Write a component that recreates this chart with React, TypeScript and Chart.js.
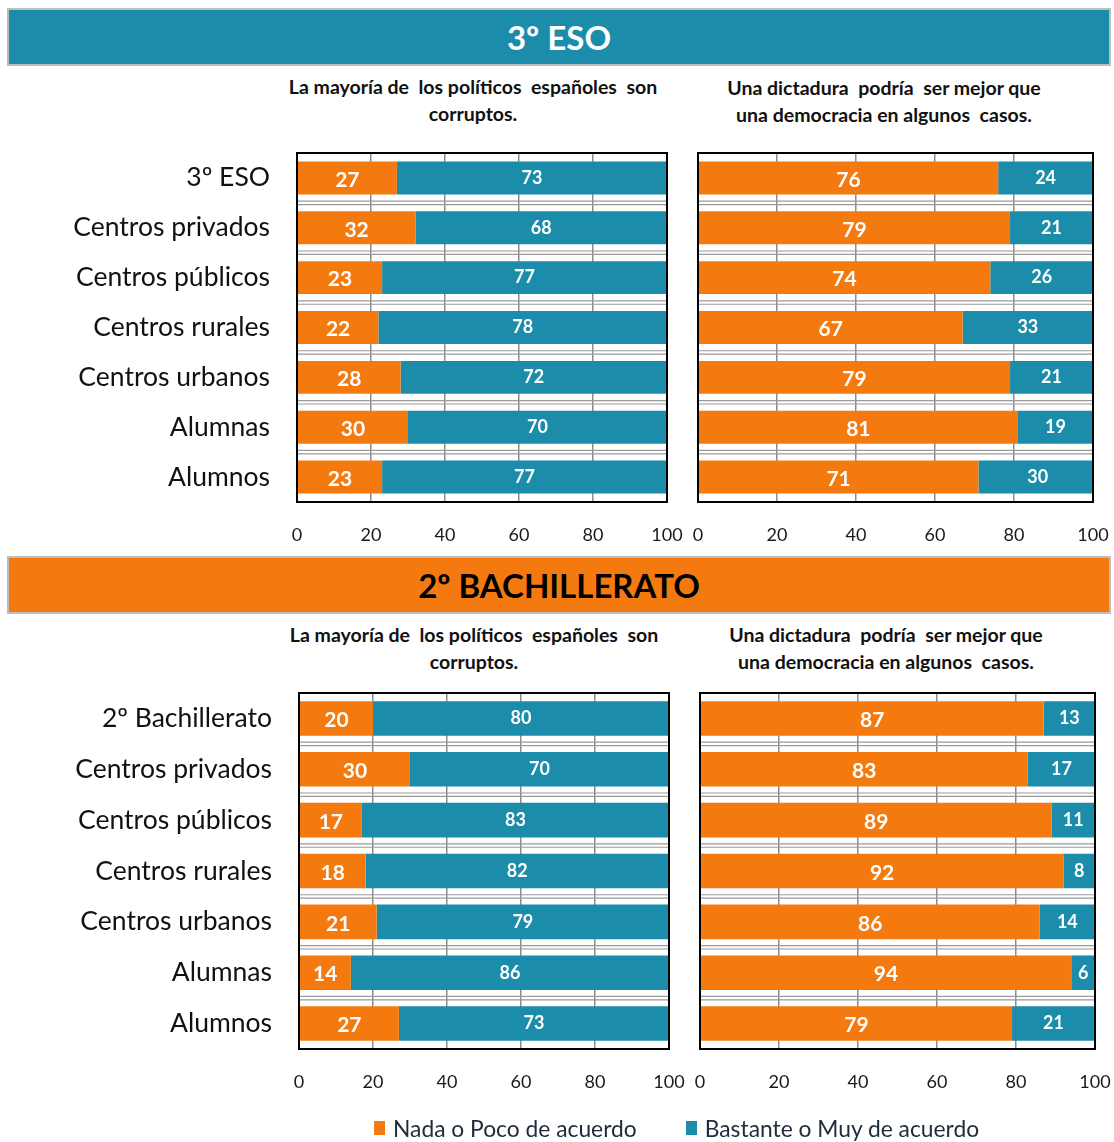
import React, { useEffect, useRef } from "react";
import { Chart, registerables } from "chart.js";

Chart.register(...registerables);

const FONT = "Lato, 'Open Sans', sans-serif";
const ORANGE = "#F47A10";
const TEAL = "#1B8CA9";

const SERIES_NAMES = ["Nada o Poco de acuerdo", "Bastante o Muy de acuerdo"];
const X_TICKS = [0, 20, 40, 60, 80, 100];

const ESO_LABELS = ["3º ESO", "Centros privados", "Centros públicos", "Centros rurales", "Centros urbanos", "Alumnas", "Alumnos"];
const BACH_LABELS = ["2º Bachillerato", "Centros privados", "Centros públicos", "Centros rurales", "Centros urbanos", "Alumnas", "Alumnos"];

const TITLE_CORRUPT = ["La mayoría de  los políticos  españoles  son", "corruptos."];
const TITLE_DICT = ["Una dictadura  podría  ser mejor que", "una democracia en algunos  casos."];

const ESO_CORRUPT_NADA = [27, 32, 23, 22, 28, 30, 23];
const ESO_CORRUPT_BASTANTE = [73, 68, 77, 78, 72, 70, 77];
const ESO_DICT_NADA = [76, 79, 74, 67, 79, 81, 71];
const ESO_DICT_BASTANTE = [24, 21, 26, 33, 21, 19, 30];

const BACH_CORRUPT_NADA = [20, 30, 17, 18, 21, 14, 27];
const BACH_CORRUPT_BASTANTE = [80, 70, 83, 82, 79, 86, 73];
const BACH_DICT_NADA = [87, 83, 89, 92, 86, 94, 79];
const BACH_DICT_BASTANTE = [13, 17, 11, 8, 14, 6, 21];

const framePlugin = {
  id: "frame",
  beforeDatasetsDraw(chart: any) {
    const { ctx, chartArea, scales } = chart;
    const y = scales.y;
    const n = chart.data.labels.length;
    const band = n > 1 ? y.getPixelForValue(1) - y.getPixelForValue(0) : 0;
    ctx.save();
    ctx.strokeStyle = "#9a9a9a";
    ctx.lineWidth = 1.2;
    for (let i = 0; i < n - 1; i++) {
      const b = y.getPixelForValue(i) + band / 2;
      for (const d of [-1.7, 1.7]) {
        ctx.beginPath();
        ctx.moveTo(chartArea.left, b + d);
        ctx.lineTo(chartArea.right, b + d);
        ctx.stroke();
      }
    }
    ctx.restore();
  },
  afterDatasetsDraw(chart: any) {
    const { ctx, chartArea } = chart;
    ctx.save();
    ctx.strokeStyle = "#000";
    ctx.lineWidth = 2;
    ctx.strokeRect(chartArea.left, chartArea.top, chartArea.right - chartArea.left, chartArea.bottom - chartArea.top);
    ctx.restore();
  },
};

const valueLabels = {
  id: "valueLabels",
  afterDraw(chart: any) {
    const { ctx } = chart;
    chart.data.datasets.forEach((ds: any, di: number) => {
      const meta = chart.getDatasetMeta(di);
      const size = di === 0 ? 21 : 18;
      ctx.save();
      ctx.fillStyle = "#fff";
      ctx.font = `bold ${size}px ${FONT}`;
      ctx.textAlign = "center";
      ctx.textBaseline = "middle";
      meta.data.forEach((el: any, i: number) => {
        const cx = (el.x + el.base) / 2;
        ctx.fillText(String(ds.data[i]), cx, el.y + (di === 0 ? 2 : 0));
      });
      ctx.restore();
    });
  },
};

type Rect = { l: number; t: number; r: number; b: number };
type BoxProps = {
  left: number; top: number; width: number; height: number;
  labels: string[]; nada: number[]; bastante: number[];
  showY: boolean; yWidth: number; plot: Rect;
  xHeight: number; barPct: number; yPad: number;
};

function ChartBox(p: BoxProps) {
  const ref = useRef<HTMLCanvasElement | null>(null);
  useEffect(() => {
    if (!ref.current) return;
    const pad = { left: p.plot.l - p.yWidth, right: p.width - p.plot.r, top: p.plot.t, bottom: p.height - p.plot.b - p.xHeight };
    const chart = new Chart(ref.current, {
      type: "bar",
      data: {
        labels: p.labels,
        datasets: [
          { label: SERIES_NAMES[0], data: p.nada, backgroundColor: ORANGE, barPercentage: p.barPct, categoryPercentage: 1 },
          { label: SERIES_NAMES[1], data: p.bastante, backgroundColor: TEAL, barPercentage: p.barPct, categoryPercentage: 1 },
        ],
      },
      options: {
        indexAxis: "y",
        animation: false,
        responsive: false,
        maintainAspectRatio: false,
        layout: { padding: { ...pad } },
        plugins: { legend: { display: false }, tooltip: { enabled: false } },
        scales: {
          x: {
            stacked: true,
            min: X_TICKS[0],
            max: X_TICKS[X_TICKS.length - 1],
            afterBuildTicks: (s: any) => { s.ticks = X_TICKS.map((v) => ({ value: v })); },
            ticks: { padding: 22, color: "#1a1a1a", font: { size: 18, family: FONT }, autoSkip: false, maxRotation: 0 },
            grid: { color: "#8c8c8c", lineWidth: 1.5, drawTicks: false },
            border: { display: false },
            afterFit: (s: any) => { s.height = p.xHeight; s.paddingLeft = 0; s.paddingRight = 0; },
          },
          y: {
            stacked: true,
            ticks: { display: p.showY, padding: p.yPad, color: "#111", font: { size: 26.5, family: FONT } },
            grid: { display: false, drawTicks: false },
            border: { display: false },
            afterFit: (s: any) => { s.width = p.yWidth; s.paddingTop = 0; s.paddingBottom = 0; },
          },
        },
      } as any,
      plugins: [framePlugin, valueLabels],
    });
    for (let k = 0; k < 4; k++) {
      const ca = chart.chartArea;
      const dl = p.plot.l - ca.left;
      const dt = p.plot.t - ca.top;
      const dr = ca.right - p.plot.r;
      const db = ca.bottom - p.plot.b;
      if (Math.abs(dl) < 0.3 && Math.abs(dt) < 0.3 && Math.abs(dr) < 0.3 && Math.abs(db) < 0.3) break;
      pad.left += dl;
      pad.top += dt;
      pad.right += dr;
      pad.bottom += db;
      (chart.options as any).layout.padding = { ...pad };
      chart.update();
    }
    return () => chart.destroy();
  }, []);
  return (
    <canvas
      ref={ref}
      width={p.width}
      height={p.height}
      style={{ position: "absolute", left: p.left, top: p.top, width: p.width, height: p.height }}
    />
  );
}

function Subtitle({ cx, top, lines }: { cx: number; top: number; lines: string[] }) {
  return (
    <div
      style={{
        position: "absolute", left: cx - 230, top, width: 460, textAlign: "center",
        fontFamily: FONT, fontWeight: 700, fontSize: 19.5, lineHeight: "27px", color: "#111", whiteSpace: "pre",
      }}
    >
      {lines.map((l, i) => (<div key={i}>{l}</div>))}
    </div>
  );
}

export default function App() {
  return (
    <div style={{ position: "absolute", left: 0, top: 0, width: 1114, height: 1142, overflow: "hidden", background: "#fff" }}>
      <div
        style={{
          position: "absolute", left: 7, top: 8, width: 1104, height: 58, boxSizing: "border-box",
          border: "2px solid #bdbdbd", background: TEAL, color: "#fff", fontFamily: FONT, fontWeight: 700,
          fontSize: 33, display: "flex", alignItems: "center", justifyContent: "center",
        }}
      >
        3º ESO
      </div>
      <Subtitle cx={473} top={73} lines={TITLE_CORRUPT} />
      <Subtitle cx={884} top={74} lines={TITLE_DICT} />
      <ChartBox left={0} top={140} width={690} height={415} labels={ESO_LABELS} nada={ESO_CORRUPT_NADA} bastante={ESO_CORRUPT_BASTANTE}
        showY={true} yWidth={297} plot={{ l: 297, t: 13, r: 667, b: 362 }} xHeight={53} barPct={0.66} yPad={27} />
      <ChartBox left={690} top={140} width={424} height={415} labels={ESO_LABELS} nada={ESO_DICT_NADA} bastante={ESO_DICT_BASTANTE}
        showY={false} yWidth={0} plot={{ l: 8, t: 13, r: 403, b: 362 }} xHeight={53} barPct={0.66} yPad={27} />

      <div
        style={{
          position: "absolute", left: 7, top: 556, width: 1104, height: 58, boxSizing: "border-box",
          border: "2px solid #bdbdbd", background: ORANGE, color: "#000", fontFamily: FONT, fontWeight: 700,
          fontSize: 33, display: "flex", alignItems: "center", justifyContent: "center",
        }}
      >
        2º BACHILLERATO
      </div>
      <Subtitle cx={474} top={621} lines={TITLE_CORRUPT} />
      <Subtitle cx={886} top={621} lines={TITLE_DICT} />
      <ChartBox left={0} top={680} width={690} height={440} labels={BACH_LABELS} nada={BACH_CORRUPT_NADA} bastante={BACH_CORRUPT_BASTANTE}
        showY={true} yWidth={299} plot={{ l: 299, t: 13, r: 669, b: 369 }} xHeight={71} barPct={0.68} yPad={27} />
      <ChartBox left={690} top={680} width={424} height={440} labels={BACH_LABELS} nada={BACH_DICT_NADA} bastante={BACH_DICT_BASTANTE}
        showY={false} yWidth={0} plot={{ l: 10, t: 13, r: 405, b: 369 }} xHeight={71} barPct={0.68} yPad={27} />

      <div style={{ position: "absolute", top: 1114, left: 374, display: "flex", alignItems: "center", fontFamily: FONT, fontSize: 22.8, color: "#1f2a3a" }}>
        <span style={{ display: "inline-block", width: 11, height: 14, background: ORANGE, marginRight: 8 }} />
        <span>{SERIES_NAMES[0]}</span>
        <span style={{ display: "inline-block", width: 11, height: 14, background: TEAL, marginLeft: 49, marginRight: 8 }} />
        <span>{SERIES_NAMES[1]}</span>
      </div>
    </div>
  );
}
